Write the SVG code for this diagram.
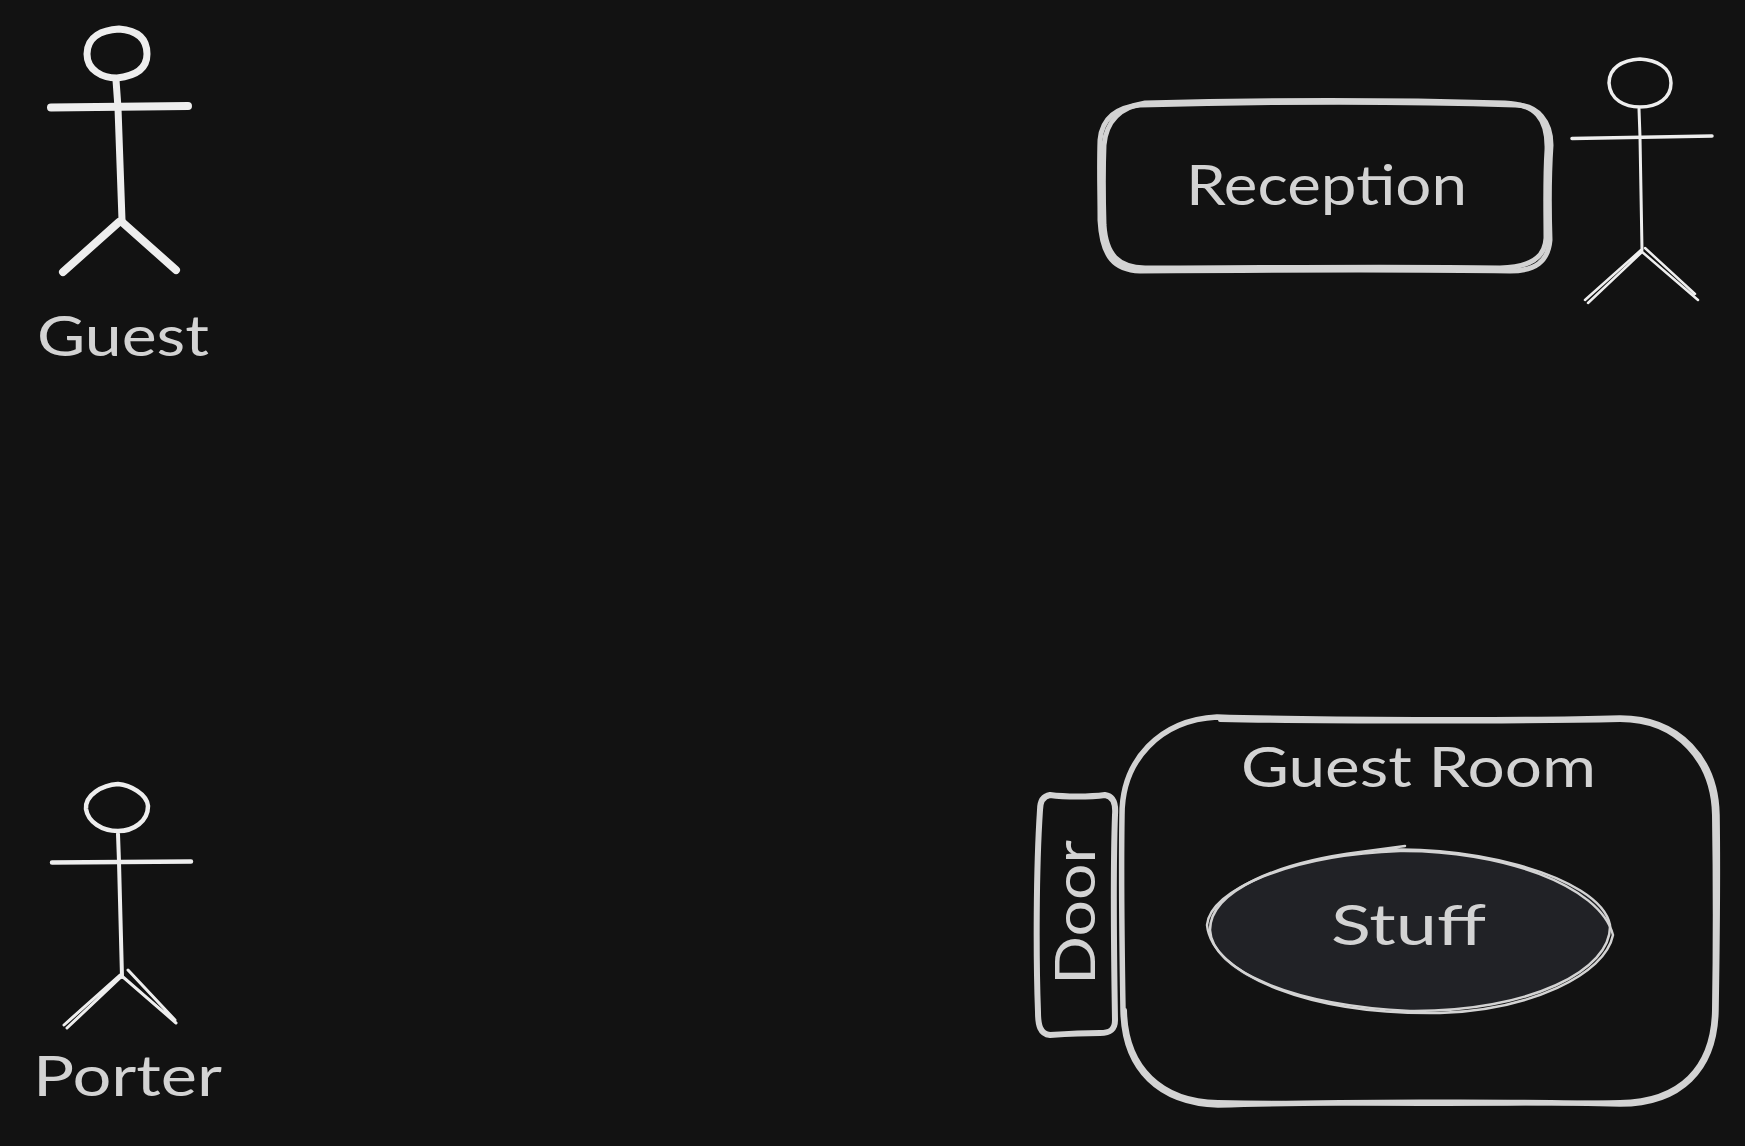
<svg xmlns="http://www.w3.org/2000/svg" width="1745" height="1146" viewBox="0 0 1745 1146">
<style>
.s{fill:none;stroke:#d3d3d3;stroke-linecap:round;stroke-linejoin:round}
.a{fill:none;stroke:#eeeeee;stroke-linecap:round;stroke-linejoin:round}
.t{font-family:"Lato","Noto Sans",sans-serif;font-size:56px;fill:#d3d3d3}
</style>
<rect width="1745" height="1146" fill="#121212"/>
<g id="guest">
<path class="a" stroke-width="7" d="M119 29C103 30 87 36 87 54C87 70 102 78 117 78C126 77 147 74 147 54C147 35 132 30 119 29Z"/>
<path class="a" stroke-width="7" d="M116 80L118 108"/>
<path class="a" stroke-width="8" d="M51 107.500L188 106"/>
<path class="a" stroke-width="7" d="M118 108L122 220"/>
<path class="a" stroke-width="8" d="M119 222L63 272"/>
<path class="a" stroke-width="8" d="M122 222L176 270"/>
<text class="t" x="37" y="356" textLength="172" lengthAdjust="spacingAndGlyphs">Guest</text>
</g>
<g id="reception">
<path class="s" stroke-width="5" d="M1140 105C1250 102 1400 101 1515 105C1538 105 1551 122 1551 145C1549 175 1549 210 1550 240C1548 262 1535 271 1510 271C1400 269 1260 270 1140 271C1115 270 1102 258 1100 220C1100 190 1099 170 1100 140C1102 118 1117 107 1140 105Z"/>
<path class="s" stroke-width="5" d="M1145 103C1260 100 1400 100 1505 103C1535 104 1548 118 1547 150C1545 180 1546 215 1546 238C1545 258 1530 267 1500 268C1390 266 1260 268 1145 268C1118 267 1106 255 1104 225C1103 190 1103 170 1104 145C1106 122 1120 107 1145 103Z"/>
<text class="t" x="1186" y="205" textLength="281" lengthAdjust="spacingAndGlyphs">Reception</text>
</g>
<g id="receptionist">
<path class="a" stroke-width="3.500" d="M1640 59C1622 60 1609 68 1609 83C1610 100 1625 107 1640 107C1658 107 1671 98 1671 83C1671 67 1656 60 1640 59Z"/>
<path class="a" stroke-width="3" d="M1639 109L1640 137L1642 250"/>
<path class="a" stroke-width="3.500" d="M1572 138.500L1712 136"/>
<path class="a" stroke-width="2.500" d="M1641 250L1585 300M1642 252L1588 303"/>
<path class="a" stroke-width="2.500" d="M1645 248L1695 294M1641 251L1698 300"/>
</g>
<g id="guest-room">
<path class="s" stroke-width="5.500" d="M1217 717C1310 720 1520 721 1620 718C1680 718 1716 760 1717 815C1718 880 1717 950 1716 1010C1715 1070 1680 1104 1620 1104C1520 1101 1320 1102 1218 1105C1160 1103 1124 1070 1123 1010C1122 950 1121 880 1122 815C1122 760 1160 720 1217 717Z"/>
<path class="s" stroke-width="4" d="M1220 720C1320 722 1520 722 1620 720C1678 720 1713 762 1714 815C1715 880 1715 950 1714 1010C1713 1068 1680 1101 1620 1102C1520 1105 1320 1104 1218 1102C1162 1101 1126 1068 1125 1010"/>
<text class="t" x="1241" y="787" textLength="355" lengthAdjust="spacingAndGlyphs">Guest Room</text>
</g>
<g id="door">
<path class="s" stroke-width="6" d="M1050 795C1065 797 1090 797 1105 795C1113 796 1116 803 1115 815C1113 870 1114 960 1115 1020C1115 1030 1110 1033 1100 1033C1085 1033 1065 1034 1050 1035C1040 1034 1038 1025 1038 1012C1036 960 1036 870 1040 810C1040 800 1044 796 1050 795Z"/>
<text class="t" transform="translate(1095 985) rotate(-90)" x="0" y="0" textLength="145" lengthAdjust="spacingAndGlyphs">Door</text>
</g>
<g id="stuff">
<ellipse cx="1410" cy="931" rx="200" ry="79" fill="#212226"/>
<path class="s" stroke-width="2.500" d="M1360 852C1460 840 1600 875 1610 925C1612 970 1530 1012 1410 1011C1290 1005 1212 970 1210 930C1210 890 1280 862 1360 852L1405 846"/>
<path class="s" stroke-width="2.500" d="M1400 851C1500 850 1600 885 1613 935C1605 975 1530 1010 1440 1013C1310 1015 1212 975 1207 925C1210 890 1290 855 1400 851Z"/>
<text class="t" x="1331" y="945" textLength="155" lengthAdjust="spacingAndGlyphs">Stuff</text>
</g>
<g id="porter">
<path class="a" stroke-width="4.500" d="M118 784C102 785 85 795 86 809C88 822 102 831 118 831C134 831 148 821 148 806C147 794 130 785 118 784Z"/>
<path class="a" stroke-width="4" d="M118 834L119 862L122 977"/>
<path class="a" stroke-width="4.500" d="M52 862.500L191 861.500"/>
<path class="a" stroke-width="3" d="M120 975L64 1025M121 977L67 1028"/>
<path class="a" stroke-width="3" d="M128 970L175 1020M123 977L176 1023"/>
<text class="t" x="33" y="1096" textLength="189" lengthAdjust="spacingAndGlyphs">Porter</text>
</g>
</svg>
